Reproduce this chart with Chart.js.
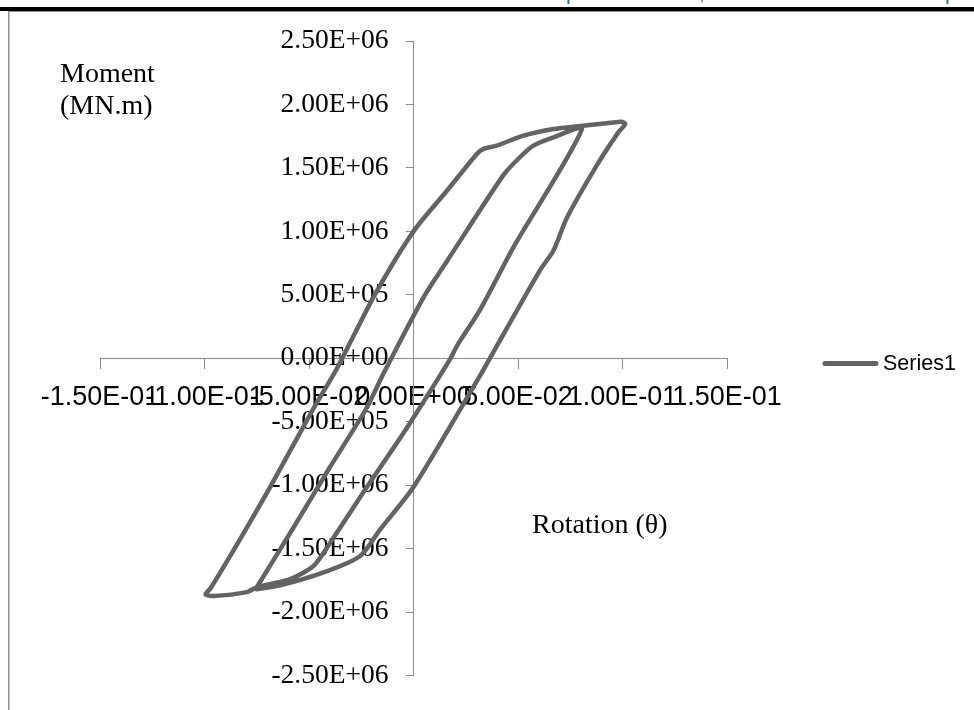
<!DOCTYPE html>
<html>
<head>
<meta charset="utf-8">
<script src="https://cdn.jsdelivr.net/npm/chart.js@4.4.1/dist/chart.umd.min.js"></script>
<style>
  html, body { margin: 0; padding: 0; background: #ffffff; }
  canvas { display: block; }
</style>
</head>
<body>
<canvas id="c" width="974" height="710"></canvas>
<script>
// ---- data ----
const seriesName = "Series1";
const rotation = [
  // inner loop, loading branch
  -0.075, -0.059, -0.040, -0.0225, -0.014, 0.005, 0.016, 0.043, 0.051, 0.0574, 0.067, 0.0806,
  // inner loop, unloading branch
  0.0478, 0.0319, 0.0208, 0.0176, -0.0032, -0.0223, -0.0399, -0.0478, -0.059, -0.075,
  // outer loop, bottom-left tip
  -0.0797, -0.0957, -0.0995, -0.097,
  // outer loop, loading branch
  -0.0877, -0.0686, -0.0478, -0.0367, -0.019, 0.0, 0.016, 0.0303, 0.0335, 0.0399, 0.0526, 0.067, 0.0798, 0.0957, 0.0997, 0.1013,
  // outer loop, unloading branch
  0.098, 0.0877, 0.0734, 0.067, 0.0605, 0.0399, 0.0319, 0.0, -0.016, -0.0255, -0.043, -0.0638, -0.075
];
const moment = [
  -1.805e6, -1.377e6, -0.859e6, -0.394e6, -0.109e6, 0.486e6, 0.765e6, 1.443e6, 1.586e6, 1.676e6, 1.741e6, 1.806e6,
  0.874e6, 0.383e6, 0.098e6, -0.005e6, -0.549e6, -1.015e6, -1.455e6, -1.636e6, -1.740e6, -1.805e6,
  -1.843e6, -1.874e6, -1.860e6, -1.810e6,
  -1.558e6, -1.015e6, -0.394e6, -0.083e6, 0.486e6, 1.000e6, 1.320e6, 1.610e6, 1.650e6, 1.676e6, 1.754e6, 1.806e6, 1.830e6, 1.858e6, 1.863e6, 1.845e6,
  1.780e6, 1.520e6, 1.107e6, 0.849e6, 0.693e6, 0.098e6, -0.135e6, -1.015e6, -1.350e6, -1.558e6, -1.688e6, -1.790e6, -1.820e6
];
const xTickValues = [-0.15, -0.10, -0.05, 0, 0.05, 0.10, 0.15];
const xTickLabels = ["-1.50E-01", "-1.00E-01", "-5.00E-02", "0.00E+00", "5.00E-02", "1.00E-01", "1.50E-01"];
const yTickValues = [-2.5e6, -2.0e6, -1.5e6, -1.0e6, -0.5e6, 0, 0.5e6, 1.0e6, 1.5e6, 2.0e6, 2.5e6];
const yTickLabels = ["-2.50E+06", "-2.00E+06", "-1.50E+06", "-1.00E+06", "-5.00E+05", "0.00E+00",
                     "5.00E+05", "1.00E+06", "1.50E+06", "2.00E+06", "2.50E+06"];
const yTitleLines = ["Moment", "(MN.m)"];
const xTitle = "Rotation (\u03B8)";

// ---- styles ----
const lineColor = "#636363";
const axisColor = "#8a8a8a";
const serif = "'Liberation Serif', 'Times New Roman', serif";
const sans = "'Liberation Sans', Arial, sans-serif";
const yLabelGap = 25; // distance from the vertical axis to the right edge of its labels

const points = rotation.map((r, i) => ({ x: r, y: moment[i] }));

const decorPlugin = {
  id: "decor",
  beforeDraw(chart) {
    const ctx = chart.ctx;
    ctx.save();
    ctx.fillStyle = "#ffffff";
    ctx.fillRect(0, 0, chart.width, chart.height);
    // page frame pieces
    ctx.fillStyle = "#000000";
    ctx.fillRect(0, 7, chart.width, 4);
    ctx.fillStyle = "#8f8f8f";
    ctx.fillRect(8, 11, chart.width - 8, 1);
    ctx.fillRect(8, 11, 1.5, chart.height - 11);
    // cut-off blue text descenders at top
    ctx.fillStyle = "#2f6f97";
    ctx.font = "22px " + sans;
    ctx.textBaseline = "alphabetic";
    ctx.textAlign = "left";
    ctx.fillText("p", 566, -1);
    ctx.fillText(",", 699, -1);
    ctx.fillText("p", 945, -1);
    ctx.restore();
  },
  afterDraw(chart) {
    const ctx = chart.ctx;
    ctx.save();
    // axis titles (text boxes)
    ctx.fillStyle = "#000000";
    ctx.font = "28px " + serif;
    ctx.textAlign = "left";
    ctx.textBaseline = "alphabetic";
    ctx.fillText(yTitleLines[0], 60, 82);
    ctx.fillText(yTitleLines[1], 60, 114);
    ctx.fillText(xTitle, 532, 533);
    // legend
    const ds = chart.data.datasets[0];
    ctx.strokeStyle = ds.borderColor;
    ctx.lineWidth = 5;
    ctx.lineCap = "round";
    ctx.beginPath();
    ctx.moveTo(825, 363.5);
    ctx.lineTo(876, 363.5);
    ctx.stroke();
    ctx.fillStyle = "#000000";
    ctx.font = "21.5px " + sans;
    ctx.textBaseline = "middle";
    ctx.fillText(ds.label, 883, 364);
    ctx.restore();
  }
};

new Chart(document.getElementById("c"), {
  type: "scatter",
  data: {
    datasets: [{
      label: seriesName,
      data: points,
      showLine: true,
      borderColor: lineColor,
      backgroundColor: lineColor,
      borderWidth: 4.5,
      borderCapStyle: "round",
      borderJoinStyle: "round",
      pointRadius: 0,
      pointHoverRadius: 0,
      tension: 0.25,
      fill: false,
      clip: false
    }]
  },
  options: {
    responsive: false,
    animation: false,
    devicePixelRatio: 1,
    layout: { padding: { left: 100, right: 247, top: 41, bottom: 25 } },
    plugins: {
      legend: { display: false },
      tooltip: { enabled: false },
      title: { display: false }
    },
    scales: {
      x: {
        type: "linear",
        position: { y: 0 },
        min: -0.15,
        max: 0.15,
        afterBuildTicks(scale) { scale.ticks = xTickValues.map(v => ({ value: v })); },
        ticks: {
          autoSkip: false,
          maxRotation: 0,
          minRotation: 0,
          padding: 13,
          color: "#000000",
          font: { family: sans, size: 27 },
          callback: (v, i) => xTickLabels[i]
        },
        grid: { display: true, drawOnChartArea: false, drawTicks: true, tickLength: 10, color: axisColor, lineWidth: 1 },
        border: { display: true, color: axisColor, width: 1 }
      },
      y: {
        type: "linear",
        position: { x: 0 },
        min: -2.5e6,
        max: 2.5e6,
        afterBuildTicks(scale) { scale.ticks = yTickValues.map(v => ({ value: v })); },
        afterUpdate(scale) {
          // labels of an axis that crosses at a value get no padding; move them left of the tick marks
          if (!scale.__shifted && typeof scale._computeLabelItems === "function") {
            const orig = scale._computeLabelItems;
            scale._computeLabelItems = function (area) {
              const items = orig.call(this, area);
              items.forEach(it => {
                if (it.options && it.options.translation) {
                  it.options.translation[0] -= yLabelGap;
                }
              });
              return items;
            };
            scale.__shifted = true;
          }
        },
        ticks: {
          autoSkip: false,
          padding: 18,
          color: "#000000",
          font: { family: serif, size: 27.5 },
          callback: (v, i) => yTickLabels[i]
        },
        grid: { display: true, drawOnChartArea: false, drawTicks: true, tickLength: 7, color: axisColor, lineWidth: 1 },
        border: { display: true, color: axisColor, width: 1 }
      }
    }
  },
  plugins: [decorPlugin]
});
</script>
</body>
</html>
